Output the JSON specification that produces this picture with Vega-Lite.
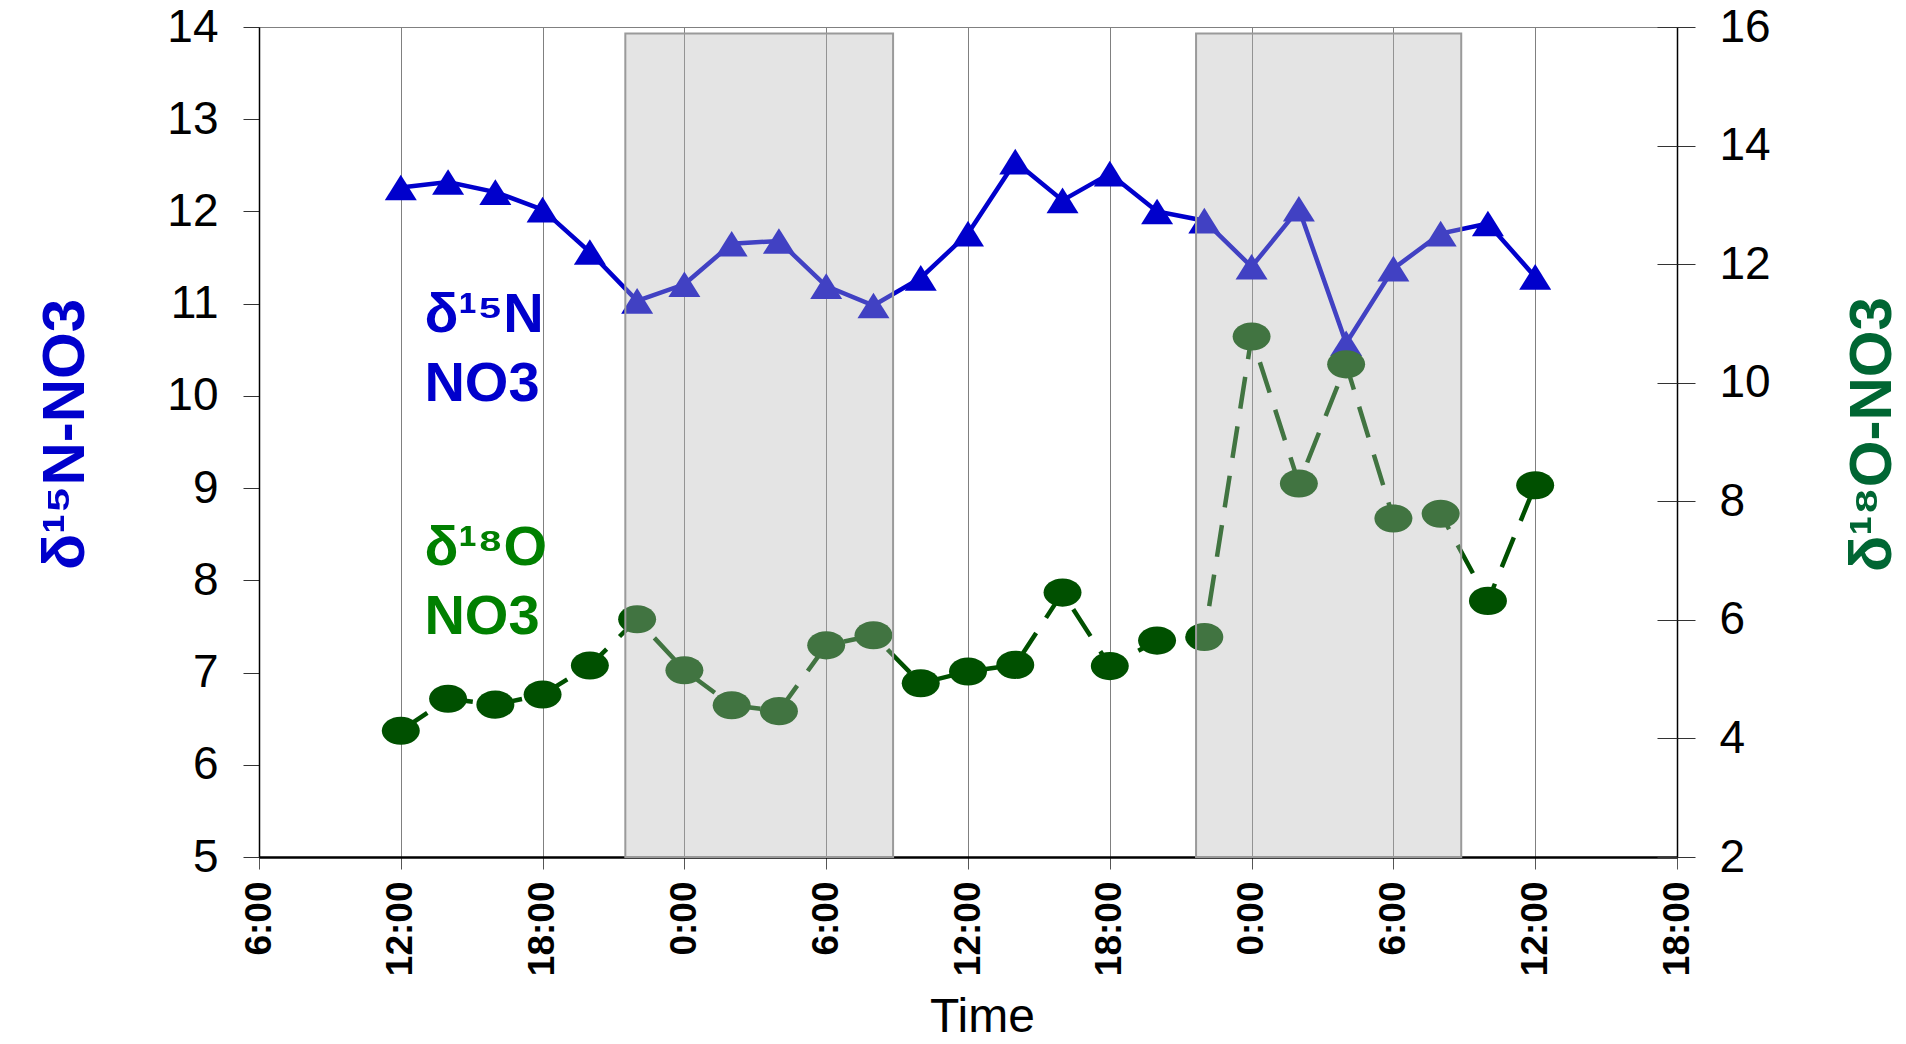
{
  "$schema": "https://vega.github.io/schema/vega-lite/v6.json",
  "width": 1418,
  "height": 830,
  "autosize": "none",
  "padding": {"left": 259, "top": 27, "right": 229, "bottom": 187},
  "background": "white",
  "config": {
    "view": {"stroke": "#808080", "strokeWidth": 1},
    "font": "Liberation Sans, Arial, sans-serif"
  },
  "datasets": {
    "iso": [
      {"t": 12, "n": 12.26, "o": 4.13},
      {"t": 14, "n": 12.32, "o": 4.67},
      {"t": 16, "n": 12.21, "o": 4.57},
      {"t": 18, "n": 12.02, "o": 4.74},
      {"t": 20, "n": 11.56, "o": 5.23},
      {"t": 22, "n": 11.03, "o": 6.01},
      {"t": 24, "n": 11.21, "o": 5.15},
      {"t": 26, "n": 11.65, "o": 4.56},
      {"t": 28, "n": 11.68, "o": 4.46},
      {"t": 30, "n": 11.19, "o": 5.57},
      {"t": 32, "n": 10.98, "o": 5.74},
      {"t": 34, "n": 11.28, "o": 4.93},
      {"t": 36, "n": 11.76, "o": 5.13},
      {"t": 38, "n": 12.54, "o": 5.24},
      {"t": 40, "n": 12.12, "o": 6.46},
      {"t": 42, "n": 12.41, "o": 5.22},
      {"t": 44, "n": 12.0, "o": 5.65},
      {"t": 46, "n": 11.9, "o": 5.71},
      {"t": 48, "n": 11.4, "o": 10.78},
      {"t": 50, "n": 12.03, "o": 8.3},
      {"t": 52, "n": 10.57, "o": 10.31},
      {"t": 54, "n": 11.38, "o": 7.71},
      {"t": 56, "n": 11.76, "o": 7.79},
      {"t": 58, "n": 11.87, "o": 6.32},
      {"t": 60, "n": 11.29, "o": 8.27}
    ],
    "night": [
      {"x1": 21.5, "x2": 32.83, "top": 13.93, "bottom": 5},
      {"x1": 45.65, "x2": 56.87, "top": 13.93, "bottom": 5}
    ],
    "labels": [
      {"lx": 13.0, "ly": 10.69, "txt": "δ¹⁵N", "grp": "N"},
      {"lx": 13.0, "ly": 9.94, "txt": "NO3", "grp": "N"},
      {"lx": 13.0, "ly": 8.17, "txt": "δ¹⁸O", "grp": "O"},
      {"lx": 13.0, "ly": 7.42, "txt": "NO3", "grp": "O"}
    ]
  },
  "layer": [
    {
      "data": {"name": "iso"},
      "encoding": {
        "x": {
          "field": "t", "type": "quantitative",
          "scale": {"domain": [6, 66], "nice": false, "zero": false},
          "axis": {
            "values": [6, 12, 18, 24, 30, 36, 42, 48, 54, 60, 66],
            "labelExpr": "(datum.value % 24) + ':00'",
            "labelAngle": 270,
            "labelFontSize": 37,
            "labelFontWeight": "bold",
            "labelColor": "black",
            "labelPadding": 12,
            "labelFlush": false,
            "labelOverlap": false,
            "tickSize": 12,
            "tickColor": "#555555",
            "domainColor": "black",
            "domainWidth": 2.5,
            "grid": true,
            "gridColor": "#808080",
            "gridWidth": 1,
            "title": "Time",
            "titleFontSize": 48,
            "titleFontWeight": "normal",
            "titleColor": "black",
            "titleX": 723,
            "titleY": 174,
            "titleBaseline": "alphabetic"
          }
        },
        "y": {
          "field": "n", "type": "quantitative",
          "scale": {"domain": [5, 14], "nice": false, "zero": false},
          "axis": {
            "orient": "left",
            "values": [5, 6, 7, 8, 9, 10, 11, 12, 13, 14],
            "tickSize": 16,
            "tickColor": "#333333",
            "labelPadding": 25,
            "labelFontSize": 46,
            "labelColor": "black",
            "labelFlush": false,
            "domainColor": "black",
            "domainWidth": 1.5,
            "grid": false,
            "title": "δ¹⁵N-NO3",
            "titleFontSize": 60,
            "titleFontWeight": "bold",
            "titleColor": "#0000CC",
            "titleAngle": 270,
            "titleX": -176,
            "titleY": 407,
            "titleAlign": "center",
            "titleBaseline": "alphabetic"
          }
        }
      },
      "layer": [
        {"mark": {"type": "line", "color": "#0000CC", "strokeWidth": 4.5}},
        {"mark": {"type": "point", "shape": "M0,-0.8L1,0.8L-1,0.8Z", "size": 1024, "filled": true, "color": "#0000CC", "opacity": 1}},
        {
          "data": {"name": "labels"},
          "mark": {"type": "text", "align": "left", "baseline": "alphabetic", "fontSize": 56, "fontWeight": "bold"},
          "encoding": {
            "x": {"field": "lx", "type": "quantitative"},
            "y": {"field": "ly", "type": "quantitative"},
            "text": {"field": "txt"},
            "color": {"field": "grp", "type": "nominal", "scale": {"domain": ["N", "O"], "range": ["#0000CC", "#008000"]}, "legend": null}
          }
        }
      ]
    },
    {
      "data": {"name": "iso"},
      "encoding": {
        "x": {"field": "t", "type": "quantitative"},
        "y": {
          "field": "o", "type": "quantitative",
          "scale": {"domain": [2, 16], "nice": false, "zero": false},
          "axis": {
            "orient": "right",
            "values": [2, 4, 6, 8, 10, 12, 14, 16],
            "tickSize": 18,
            "tickColor": "#333333",
            "labelPadding": 24,
            "labelFontSize": 46,
            "labelColor": "black",
            "labelFlush": false,
            "domainColor": "black",
            "domainWidth": 1.5,
            "grid": false,
            "title": "δ¹⁸O-NO3",
            "titleFontSize": 60,
            "titleFontWeight": "bold",
            "titleColor": "#006633",
            "titleAngle": 270,
            "titleX": 213,
            "titleY": 407,
            "titleAlign": "center",
            "titleBaseline": "alphabetic"
          }
        }
      },
      "layer": [
        {"mark": {"type": "line", "color": "#005000", "strokeWidth": 4.5, "strokeDash": [32, 18]}},
        {"mark": {"type": "point", "shape": "M-1,0A1,0.74 0 1,0 1,0A1,0.74 0 1,0 -1,0Z", "size": 1444, "filled": true, "color": "#005000", "opacity": 1}}
      ]
    },
    {
      "data": {"name": "iso"},
      "mark": {"type": "point", "opacity": 0},
      "encoding": {
        "x": {"field": "t", "type": "quantitative"},
        "y": {
          "field": "o", "type": "quantitative",
          "scale": {"domain": [2, 16], "nice": false, "zero": false},
          "axis": {
            "orient": "right",
            "values": [2, 4, 6, 8, 10, 12, 14, 16],
            "tickSize": -20,
            "tickColor": "#333333",
            "labels": false,
            "domain": false,
            "grid": false,
            "title": null
          }
        }
      }
    },
    {
      "data": {"name": "night"},
      "mark": {"type": "rect", "fill": "#b4b4b4", "fillOpacity": 0.36, "stroke": "#9a9a9a", "strokeWidth": 2},
      "encoding": {
        "x": {"field": "x1", "type": "quantitative"},
        "x2": {"field": "x2"},
        "y": {"field": "top", "type": "quantitative", "scale": {"domain": [5, 14], "nice": false, "zero": false}, "axis": null},
        "y2": {"field": "bottom"}
      }
    }
  ],
  "resolve": {"scale": {"y": "independent"}}
}
